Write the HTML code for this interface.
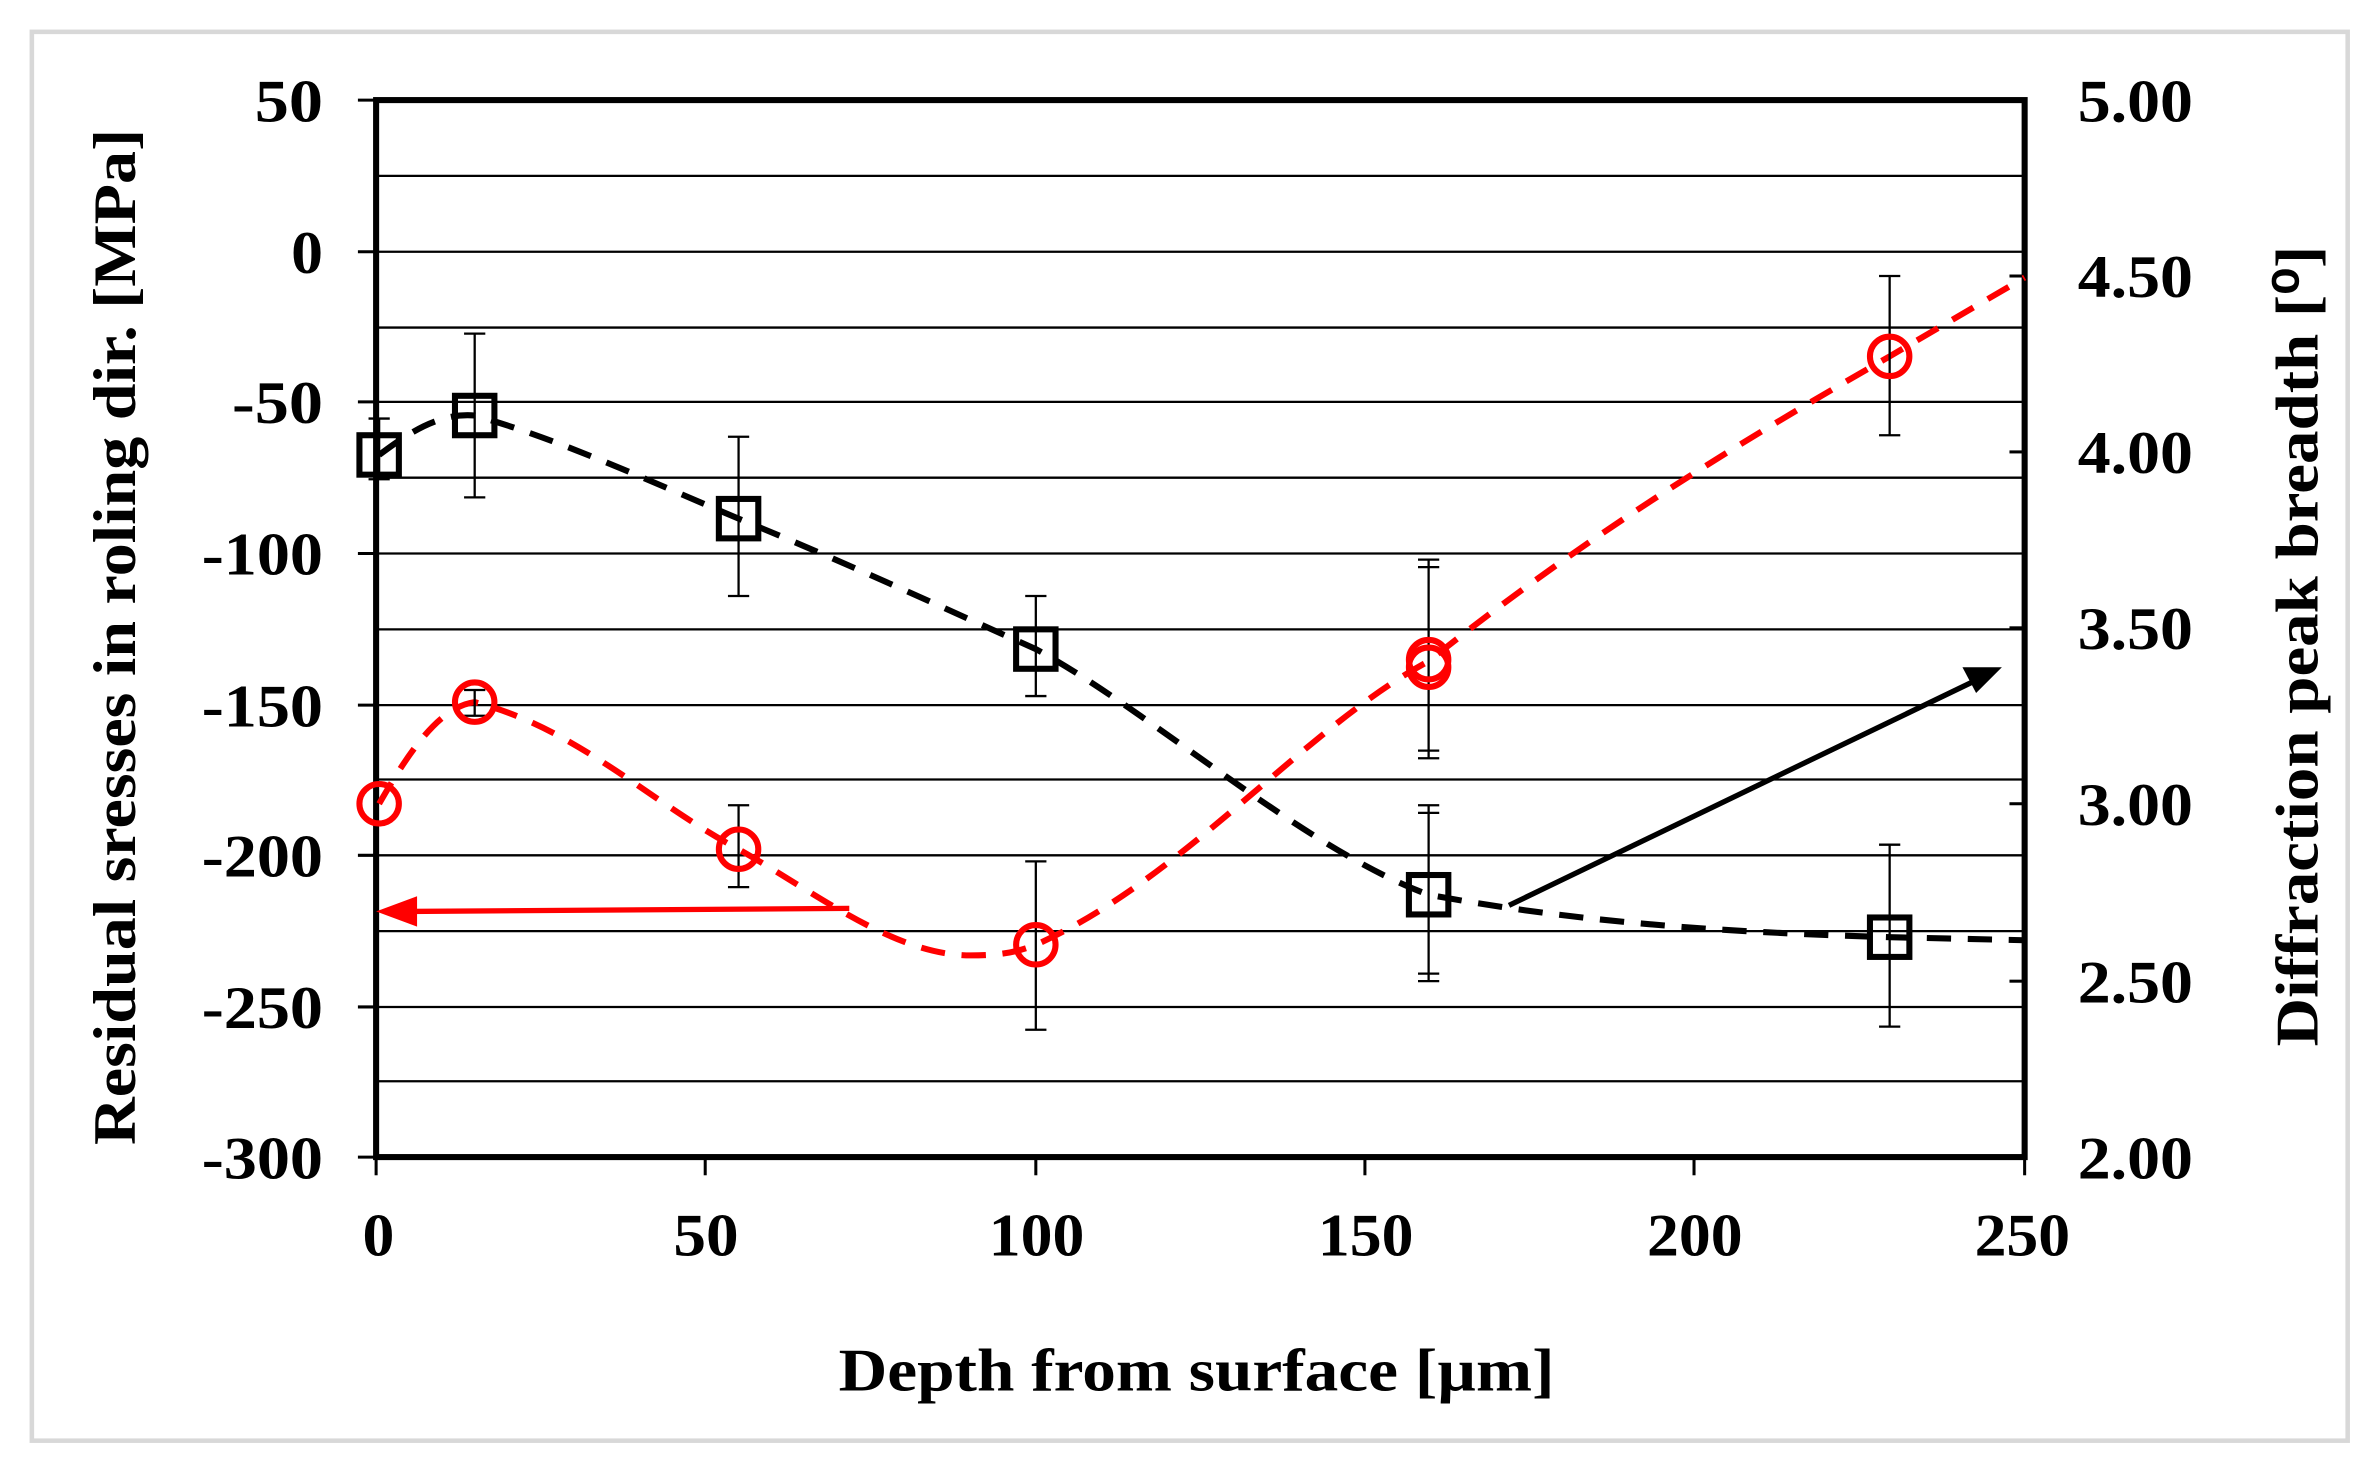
<!DOCTYPE html>
<html><head><meta charset="utf-8"><style>html,body{margin:0;padding:0;background:#fff}svg{display:block}</style></head>
<body>
<svg width="2378" height="1471" viewBox="0 0 1568 970" preserveAspectRatio="none" xmlns="http://www.w3.org/2000/svg" font-family="Liberation Serif, serif" font-weight="bold">
<rect x="21" y="21" width="1527" height="929" fill="#fff" stroke="#d8d8d8" stroke-width="3"/>
<g stroke="#000" stroke-width="1.5">
<line x1="248" x2="1335" y1="116" y2="116"/><line x1="248" x2="1335" y1="166" y2="166"/>
<line x1="248" x2="1335" y1="216" y2="216"/><line x1="248" x2="1335" y1="265" y2="265"/>
<line x1="248" x2="1335" y1="315" y2="315"/><line x1="248" x2="1335" y1="365" y2="365"/>
<line x1="248" x2="1335" y1="415" y2="415"/><line x1="248" x2="1335" y1="465" y2="465"/>
<line x1="248" x2="1335" y1="514" y2="514"/><line x1="248" x2="1335" y1="564" y2="564"/>
<line x1="248" x2="1335" y1="614" y2="614"/><line x1="248" x2="1335" y1="664" y2="664"/>
<line x1="248" x2="1335" y1="713" y2="713"/>
</g>
<rect x="248" y="66" width="1087" height="697" fill="none" stroke="#000" stroke-width="4"/>
<g stroke="#000" stroke-width="2">
<line x1="236" x2="248" y1="66" y2="66"/><line x1="236" x2="248" y1="166" y2="166"/><line x1="236" x2="248" y1="265" y2="265"/><line x1="236" x2="248" y1="365" y2="365"/><line x1="236" x2="248" y1="465" y2="465"/><line x1="236" x2="248" y1="564" y2="564"/><line x1="236" x2="248" y1="664" y2="664"/><line x1="236" x2="248" y1="763" y2="763"/>
<line x1="248" x2="248" y1="763" y2="775"/><line x1="465" x2="465" y1="763" y2="775"/><line x1="683" x2="683" y1="763" y2="775"/><line x1="900" x2="900" y1="763" y2="775"/><line x1="1117" x2="1117" y1="763" y2="775"/><line x1="1335" x2="1335" y1="763" y2="775"/>
<line x1="1325" x2="1335" y1="182" y2="182"/><line x1="1325" x2="1335" y1="298" y2="298"/><line x1="1325" x2="1335" y1="414" y2="414"/><line x1="1325" x2="1335" y1="530" y2="530"/><line x1="1325" x2="1335" y1="647" y2="647"/>
</g>
<g font-size="40" lengthAdjust="spacingAndGlyphs">
<text x="168" y="80" textLength="45" lengthAdjust="spacingAndGlyphs">50</text>
<text x="192" y="180" textLength="21" lengthAdjust="spacingAndGlyphs">0</text>
<text x="153" y="279" textLength="60" lengthAdjust="spacingAndGlyphs">-50</text>
<text x="133" y="379" textLength="80" lengthAdjust="spacingAndGlyphs">-100</text>
<text x="133" y="479" textLength="80" lengthAdjust="spacingAndGlyphs">-150</text>
<text x="133" y="578" textLength="80" lengthAdjust="spacingAndGlyphs">-200</text>
<text x="133" y="678" textLength="80" lengthAdjust="spacingAndGlyphs">-250</text>
<text x="133" y="777" textLength="80" lengthAdjust="spacingAndGlyphs">-300</text>
<text x="1370" y="80" textLength="76" lengthAdjust="spacingAndGlyphs">5.00</text>
<text x="1370" y="196" textLength="76" lengthAdjust="spacingAndGlyphs">4.50</text>
<text x="1370" y="312" textLength="76" lengthAdjust="spacingAndGlyphs">4.00</text>
<text x="1370" y="428" textLength="76" lengthAdjust="spacingAndGlyphs">3.50</text>
<text x="1370" y="544" textLength="76" lengthAdjust="spacingAndGlyphs">3.00</text>
<text x="1370" y="661" textLength="76" lengthAdjust="spacingAndGlyphs">2.50</text>
<text x="1370" y="777" textLength="76" lengthAdjust="spacingAndGlyphs">2.00</text>
<text x="239" y="828" textLength="21" lengthAdjust="spacingAndGlyphs">0</text>
<text x="444" y="828" textLength="43" lengthAdjust="spacingAndGlyphs">50</text>
<text x="652" y="828" textLength="63" lengthAdjust="spacingAndGlyphs">100</text>
<text x="869" y="828" textLength="63" lengthAdjust="spacingAndGlyphs">150</text>
<text x="1086" y="828" textLength="63" lengthAdjust="spacingAndGlyphs">200</text>
<text x="1302" y="828" textLength="63" lengthAdjust="spacingAndGlyphs">250</text>
<text x="553" y="917" textLength="472" lengthAdjust="spacingAndGlyphs">Depth from surface  [µm]</text>
<text transform="translate(89,755) rotate(-90)" textLength="670" lengthAdjust="spacingAndGlyphs">Residual  sresses in roling dir. [MPa]</text>
<text transform="translate(1528,690) rotate(-90)" textLength="528" lengthAdjust="spacingAndGlyphs">Diffraction  peak breadth  [⁰]</text>
</g>
<!-- black series -->
<path d="M250,300 C270,285 290,272 313,274 C370,290 430,318 487,342 C560,372 620,400 683,428 C760,470 860,560 942,590 C1050,610 1150,615 1246,618 L1335,620" fill="none" stroke="#000" stroke-width="4" stroke-dasharray="16,11"/>
<g stroke="#000" stroke-width="1.5">
<path d="M250,276V316M243,276H257M243,316H257"/>
<path d="M313,220V328M306,220H320M306,328H320"/>
<path d="M487,288V393M480,288H494M480,393H494"/>
<path d="M683,393V459M676,393H690M676,459H690"/>
<path d="M942,531V647M935,531H949M935,647H949M935,536H949M935,642H949"/>
<path d="M1246,557V677M1239,557H1253M1239,677H1253"/>
</g>
<g fill="none" stroke="#000" stroke-width="4">
<rect x="237" y="287" width="26" height="26"/><rect x="300" y="261" width="26" height="26"/><rect x="474" y="329" width="26" height="26"/><rect x="670" y="415" width="26" height="26"/><rect x="929" y="577" width="26" height="26"/><rect x="1233" y="605" width="26" height="26"/>
</g>
<!-- red series -->
<path d="M250,530 C270,495 290,466 313,463 C380,480 430,530 487,560 C540,590 590,630 640,630 C660,630 670,628 683,623 C780,580 860,480 942,436 C1050,350 1150,290 1246,235 L1335,183" fill="none" stroke="#f00" stroke-width="4" stroke-dasharray="16,11"/>
<g stroke="#000" stroke-width="1.5">
<path d="M313,455V472M306,455H320M306,472H320"/>
<path d="M487,531V585M480,531H494M480,585H494"/>
<path d="M683,568V679M676,568H690M676,679H690"/>
<path d="M942,369V500M935,369H949M935,500H949M935,374H949M935,495H949"/>
<path d="M1246,182V287M1239,182H1253M1239,287H1253"/>
</g>
<g fill="none" stroke="#f00" stroke-width="4">
<circle cx="250" cy="530" r="13"/><circle cx="313" cy="463" r="13"/><circle cx="487" cy="560" r="13"/><circle cx="683" cy="623" r="13"/><circle cx="942" cy="435" r="13"/><circle cx="942" cy="440" r="13"/><circle cx="1246" cy="235" r="13"/>
</g>
<!-- arrows -->
<path d="M560,599 L270,601" stroke="#f00" stroke-width="3.5"/>
<path d="M248,601 L275,591 L275,611 Z" fill="#f00"/>
<path d="M995,597 L1300,450" stroke="#000" stroke-width="3.5"/>
<path d="M1320,440 L1294,440 L1303,457 Z" fill="#000"/>
</svg>
</body></html>
